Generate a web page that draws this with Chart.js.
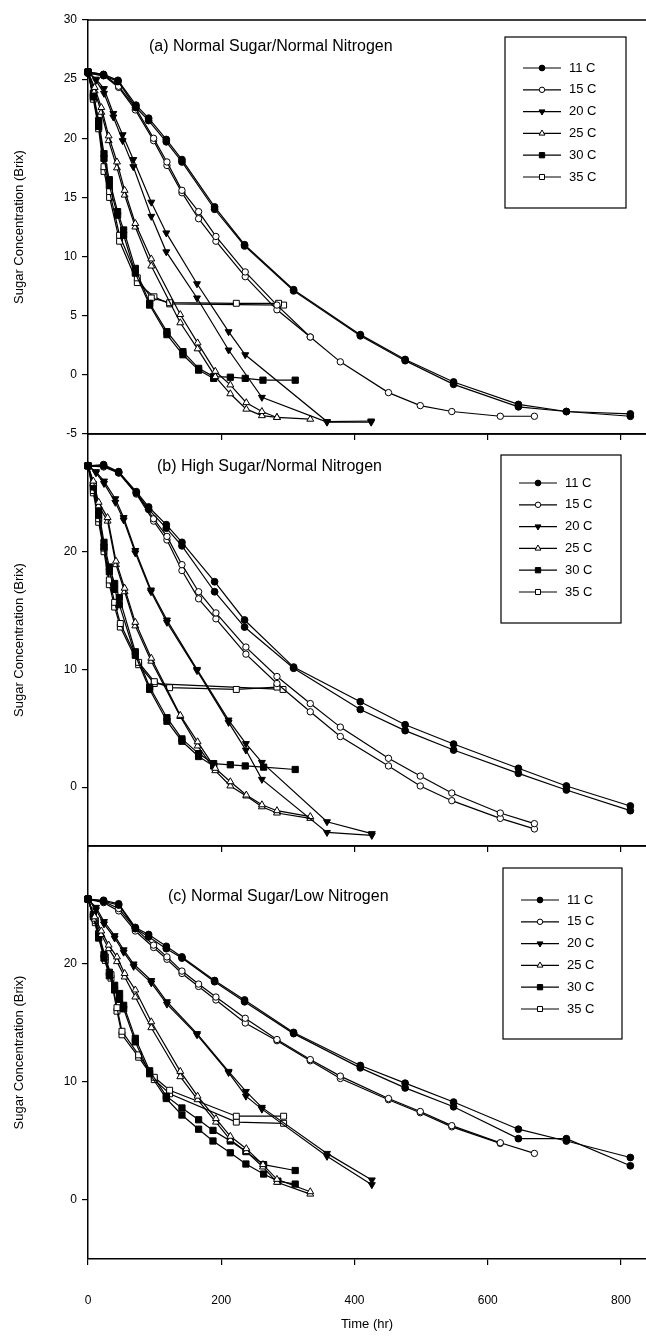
<!DOCTYPE html>
<html>
<head>
<meta charset="utf-8">
<script src="https://cdn.jsdelivr.net/npm/chart.js@4.4.0/dist/chart.umd.min.js"></script>
<style>
body { margin: 0; background: #fff; width: 646px; height: 1338px; position: relative; overflow: hidden; }
canvas { position: absolute; left: 0; }
</style>
</head>
<body>
<canvas id="chartA" width="646" height="460" style="top:0px"></canvas>
<canvas id="chartB" width="646" height="472" style="top:400px"></canvas>
<canvas id="chartC" width="646" height="526" style="top:812px"></canvas>
<script>
// ---------------- Data : [time (hr), sugar (Brix)], two replicates per temperature ----
const temps = [ '11 C', '15 C', '20 C', '25 C', '30 C', '35 C' ] ;
const xTicks = [ 0, 200, 400, 600, 800 ] ;
const yTicksA = [ -5, 0, 5, 10, 15, 20, 25, 30 ] ;
const yTicksBC = [ 0, 10, 20 ] ;

// (a) Normal Sugar / Normal Nitrogen
const a11r1 = [[0,25.6],[23.4,25.4],[45,24.9],[72,22.8],[91,21.7],[117.5,19.9],[141,18.2],[190,14.2],[235,11.0],[308.6,7.2],[408.7,3.4],[476,1.3],[548.7,-0.6],[646,-2.5],[718,-3.1],[814,-3.3]] ;
const a11r2 = [[0,25.5],[23.4,25.3],[45,24.8],[72,22.6],[91,21.5],[117.5,19.7],[141,18.0],[190,14.0],[235,10.9],[308.6,7.1],[408.7,3.3],[476,1.2],[548.7,-0.8],[646,-2.7],[718,-3.1],[814,-3.5]] ;
const a15r1 = [[0,25.6],[23.4,25.4],[46,24.4],[71,22.6],[98.5,20.0],[118.5,18.0],[141,15.6],[166,13.8],[192,11.7],[236,8.7],[283.6,5.9],[333.6,3.2],[378.7,1.1],[451,-1.5],[498.7,-2.6],[546,-3.1],[618.8,-3.5],[670,-3.5]] ;
const a15r2 = [[0,25.5],[23.4,25.3],[46,24.3],[71,22.4],[98.5,19.8],[118.5,17.7],[141,15.4],[166,13.2],[192,11.3],[236,8.3],[283.6,5.5],[333.6,3.2]] ;
const a20r1 = [[0,25.6],[12,25.0],[24,24.2],[38,22.1],[52,20.3],[68,18.2],[95,14.6],[117.5,12.0],[163.6,7.7],[211,3.65],[236,1.7],[358.7,-3.95],[425,-3.9]] ;
const a20r2 = [[0,25.6],[12,24.9],[24,23.8],[38,21.8],[52,19.8],[68,17.6],[95,13.4],[117.5,10.4],[163.6,6.5],[211,2.1],[261,-1.9],[358.7,-4.0],[425,-4.0]] ;
const a25r1 = [[0,25.6],[10,24.3],[20,22.6],[31,20.2],[43.5,18.0],[55,15.6],[71,12.8],[95,9.8],[138.5,5.1],[164.5,2.7],[191,0.3],[213.6,-0.85],[237.6,-2.35],[261,-3.1],[283.6,-3.6],[333.6,-3.75]] ;
const a25r2 = [[0,25.6],[10,24.0],[20,22.2],[31,19.8],[43.5,17.5],[55,15.2],[71,12.5],[95,9.2],[138.5,4.4],[164.5,2.2],[191,-0.15],[213.6,-1.6],[237.6,-2.9],[261,-3.45],[283.6,-3.6]] ;
const a30r1 = [[0,25.6],[8,23.8],[16,21.5],[24,18.7],[32,16.5],[44.4,13.8],[53.5,12.25],[71,9.0],[92.5,6.05],[118.5,3.65],[142.5,1.96],[166,0.55],[188.6,-0.15],[213.6,-0.2],[236,-0.3],[262.6,-0.45],[311,-0.45]] ;
const a30r2 = [[0,25.6],[8,23.5],[16,21.0],[24,18.3],[32,16.0],[44.4,13.5],[53.5,11.8],[71,8.6],[92.5,5.9],[118.5,3.4],[142.5,1.7],[166,0.4],[188.6,-0.3]] ;
const a35r1 = [[0,25.6],[8,23.6],[16,21.3],[24,17.6],[32.4,15.5],[47.4,11.8],[74,8.2],[95,6.5],[122.6,6.1],[222.6,6.05],[286,6.05]] ;
const a35r2 = [[0,25.6],[8,23.3],[16,20.8],[24,17.2],[32.4,15.0],[47.4,11.3],[74,7.8],[99,6.6],[122.6,6.0],[293.6,5.9]] ;

// (b) High Sugar / Normal Nitrogen
const b11r1 = [[0,27.3],[23.4,27.4],[46,26.8],[72.5,25.1],[91,23.8],[117.5,22.3],[141,20.8],[190,17.45],[235,14.2],[308.6,10.2],[408.7,7.26],[476,5.3],[548.7,3.66],[646,1.6],[718,0.1],[814,-1.6]] ;
const b11r2 = [[0,27.3],[23.4,27.3],[46,26.7],[72.5,25.0],[91,23.6],[117.5,22.0],[141,20.5],[190,16.6],[235,13.6],[308.6,10.1],[408.7,6.6],[476,4.8],[548.7,3.15],[646,1.17],[718,-0.24],[814,-2.0]] ;
const b15r1 = [[0,27.3],[23.4,27.3],[46,26.8],[72.5,25.0],[98.5,22.8],[118.5,21.3],[141,18.9],[166,16.6],[192,14.8],[237,11.9],[283.6,9.4],[333.6,7.1],[378.7,5.1],[451,2.45],[498.7,0.94],[546,-0.5],[618.8,-2.2],[670,-3.1]] ;
const b15r2 = [[0,27.3],[23.4,27.2],[46,26.7],[72.5,24.9],[98.5,22.6],[118.5,21.0],[141,18.4],[166,16.0],[192,14.3],[237,11.3],[283.6,8.8],[333.6,6.4],[378.7,4.3],[451,1.8],[498.7,0.1],[546,-1.15],[618.8,-2.65],[670,-3.55]] ;
const b20r1 = [[0,27.3],[12,26.8],[24,26.0],[41,24.5],[53.5,22.9],[71,20.1],[94.5,16.75],[118.5,14.2],[163.6,10.0],[211,5.7],[237,3.7],[261,2.1],[358.7,-2.94],[426,-3.95]] ;
const b20r2 = [[0,27.3],[12,26.7],[24,25.8],[41,24.2],[53.5,22.7],[71,19.9],[94.5,16.6],[118.5,14.0],[163.6,9.9],[211,5.5],[237,3.15],[261,0.66],[358.7,-3.85],[426,-4.1]] ;
const b25r1 = [[0,27.3],[8,26.0],[16,24.2],[29.4,22.9],[42,19.2],[55,16.9],[71,14.0],[95,10.95],[138.5,6.1],[164.5,3.85],[191,1.6],[213.6,0.46],[237.6,-0.67],[261,-1.5],[283.6,-2.0],[333.6,-2.5]] ;
const b25r2 = [[0,27.3],[8,25.8],[16,23.9],[29.4,22.6],[42,18.9],[55,16.6],[71,13.7],[95,10.7],[138.5,6.0],[164.5,3.5],[191,1.4],[213.6,0.1],[237.6,-0.75],[261,-1.67],[283.6,-2.2],[333.6,-2.65]] ;
const b30r1 = [[0,27.3],[8,25.7],[16,23.5],[24,20.8],[32,18.7],[40,17.3],[47,16.1],[71,11.5],[92.5,8.5],[118.5,5.9],[141,4.1],[166,2.85],[188.6,2.0],[213.6,1.9],[236,1.8],[263.6,1.7],[311,1.5]] ;
const b30r2 = [[0,27.3],[8,25.5],[16,23.1],[24,20.4],[32,18.3],[40,16.8],[47,15.5],[71,11.2],[92.5,8.3],[118.5,5.6],[141,3.9],[166,2.6],[188.6,1.8]] ;
const b35r1 = [[0,27.3],[8,25.2],[16,22.8],[24,20.3],[32,17.6],[40,15.7],[48.5,13.9],[76,10.6],[99.5,8.96],[122.5,8.45],[222.6,8.3],[283.6,8.5]] ;
const b35r2 = [[0,27.3],[8,25.0],[16,22.5],[24,20.0],[32,17.2],[40,15.3],[48.5,13.6],[76,10.4],[99.5,8.8],[292.7,8.3]] ;

// (c) Normal Sugar / Low Nitrogen
const c11r1 = [[0,25.5],[23.4,25.4],[46,25.1],[71,23.1],[91,22.5],[117.5,21.5],[141,20.6],[190,18.6],[235,16.95],[308.6,14.2],[408.7,11.4],[476,9.9],[548.7,8.3],[646,6.0],[718,5.0],[814,3.6]] ;
const c11r2 = [[0,25.5],[23.4,25.3],[46,25.0],[71,23.0],[91,22.3],[117.5,21.3],[141,20.5],[190,18.5],[235,16.8],[308.6,14.1],[408.7,11.2],[476,9.5],[548.7,7.9],[646,5.2],[718,5.2],[814,2.9]] ;
const c15r1 = [[0,25.5],[23.4,25.3],[46,24.7],[71,23.0],[98.5,21.6],[118.5,20.6],[141,19.4],[166,18.3],[192,17.2],[236,15.4],[283.6,13.6],[333.6,11.9],[378.7,10.5],[451,8.6],[498.7,7.5],[546,6.3],[618.8,4.85],[670,3.95]] ;
const c15r2 = [[0,25.5],[23.4,25.2],[46,24.5],[71,22.8],[98.5,21.4],[118.5,20.4],[141,19.2],[166,18.1],[192,16.95],[236,15.0],[283.6,13.5],[333.6,11.8],[378.7,10.3],[451,8.5],[498.7,7.4],[546,6.2],[618.8,4.8]] ;
const c20r1 = [[0,25.5],[12,24.8],[24,23.6],[40,22.4],[53.5,21.2],[68.5,20.0],[95,18.6],[118.5,16.8],[163.6,14.1],[211,10.9],[237,9.2],[261,7.85],[358.7,3.95],[426,1.7]] ;
const c20r2 = [[0,25.5],[12,24.6],[24,23.4],[40,22.2],[53.5,21.0],[68.5,19.8],[95,18.4],[118.5,16.6],[163.6,14.0],[211,10.8],[237,8.8],[261,7.7],[358.7,3.7],[426,1.3]] ;
const c25r1 = [[0,25.5],[10,24.0],[20,22.8],[31,21.6],[43.5,20.6],[55,19.2],[71,17.8],[95,15.1],[138.5,10.9],[164.5,8.8],[192,6.9],[213.6,5.4],[237.6,4.35],[262.6,3.0],[283.6,1.75],[333.6,0.7]] ;
const c25r2 = [[0,25.5],[10,23.8],[20,22.5],[31,21.3],[43.5,20.2],[55,18.9],[71,17.2],[95,14.6],[138.5,10.45],[164.5,8.5],[192,6.6],[213.6,5.1],[237.6,4.1],[262.6,2.8],[283.6,1.5],[333.6,0.5]] ;
const c30r1 = [[0,25.5],[8,24.2],[16,22.5],[24,20.8],[32,19.3],[40,18.2],[47.4,17.5],[53.5,16.5],[71,13.7],[92.5,10.95],[117.5,8.8],[141,7.8],[166,6.8],[187.6,5.9],[213.6,5.0],[237,4.1],[263.6,3.0],[311,2.5]] ;
const c30r2 = [[0,25.5],[8,24.0],[16,22.2],[24,20.5],[32,19.0],[40,17.8],[47.4,17.0],[53.5,16.2],[71,13.4],[92.5,10.7],[117.5,8.6],[141,7.2],[166,6.0],[187.6,5.0],[213.6,4.0],[237,3.05],[263.6,2.2],[285,1.6],[311,1.35]] ;
const c35r1 = [[0,25.5],[11,23.7],[16,22.6],[26,20.6],[34.5,19.1],[43.5,16.3],[51,14.3],[76,12.3],[99.5,10.4],[122.5,9.3],[222.6,7.1],[293.6,7.1]] ;
const c35r2 = [[0,25.5],[11,23.5],[16,22.3],[26,20.3],[34.5,18.8],[43.5,16.0],[51,14.0],[76,12.1],[99.5,10.2],[122.5,9.0],[222.6,6.6],[293.6,6.5]] ;

// ---------------- Styles -----------------------------------------------------
const FONT = '"Liberation Sans", Arial, Helvetica, sans-serif' ;

const markers = [
    { style: 'circle',   rot: 0,   fill: true,  radius: 3.4 },
    { style: 'circle',   rot: 0,   fill: false, radius: 3.2 },
    { style: 'triangle', rot: 180, fill: true,  radius: 4.0 },
    { style: 'triangle', rot: 0,   fill: false, radius: 4.0 },
    { style: 'rect',     rot: 0,   fill: true,  radius: 4.4 },
    { style: 'rect',     rot: 0,   fill: false, radius: 4.2 }
] ;

function makeDataset( label, pts, m ) {
    return {
        label            : label,
        data             : pts.map( p => ({ x: p[0], y: p[1] }) ),
        borderColor      : '#000',
        borderWidth      : 1.2,
        backgroundColor  : '#000',
        tension          : 0,
        clip             : false,
        pointStyle       : m.style,
        pointRotation    : m.rot,
        pointRadius      : m.radius,
        pointBackgroundColor : m.fill ? '#000' : '#fff',
        pointBorderColor : '#000',
        pointBorderWidth : 1
    } ;
}

function buildDatasets( series ) {
    const out = [] ;
    series.forEach( ( pair, i ) => {
        out.push( makeDataset( temps[i], pair[0], markers[i] ) ) ;
        out.push( makeDataset( temps[i] + ' (rep 2)', pair[1], markers[i] ) ) ;
    } ) ;
    return out ;
}

// ---------------- Plugins ----------------------------------------------------
const frameTop = {
    id: 'frameTop',
    afterDraw( chart ) {
        const a = chart.chartArea, ctx = chart.ctx ;
        ctx.save() ;
        ctx.strokeStyle = '#000' ;
        ctx.lineWidth = 1.5 ;
        ctx.beginPath() ;
        ctx.moveTo( a.left, a.top ) ;
        ctx.lineTo( a.right, a.top ) ;
        ctx.stroke() ;
        ctx.restore() ;
    }
} ;

const panelText = {
    id: 'panelText',
    afterDraw( chart, args, opts ) {
        const ctx = chart.ctx ;
        ctx.save() ;
        ctx.fillStyle = '#000' ;
        ctx.font = '16px ' + FONT ;
        ctx.textBaseline = 'middle' ;
        ctx.fillText( opts.text, opts.x, opts.y - opts.offset ) ;
        ctx.restore() ;
    }
} ;

const boxLegend = {
    id: 'boxLegend',
    afterDraw( chart, args, opts ) {
        const ctx = chart.ctx ;
        const off = opts.offset ;
        ctx.save() ;
        ctx.strokeStyle = '#000' ;
        ctx.lineWidth = 1.2 ;
        ctx.strokeRect( opts.box[0], opts.box[1] - off, opts.box[2], opts.box[3] ) ;
        ctx.font = '13px ' + FONT ;
        ctx.textBaseline = 'middle' ;
        temps.forEach( ( t, i ) => {
            const y = opts.rowTop - off + i * opts.rowGap ;
            ctx.strokeStyle = '#000' ;
            ctx.lineWidth = 1.2 ;
            ctx.beginPath() ;
            ctx.moveTo( opts.lineX[0], y ) ;
            ctx.lineTo( opts.lineX[1], y ) ;
            ctx.stroke() ;
            const m = markers[i] ;
            ctx.fillStyle = m.fill ? '#000' : '#fff' ;
            ctx.lineWidth = 1 ;
            Chart.helpers.drawPoint( ctx, {
                pointStyle: m.style, rotation: m.rot, radius: m.radius * 0.85, borderWidth: 1
            }, ( opts.lineX[0] + opts.lineX[1] ) / 2, y ) ;
            ctx.fillStyle = '#000' ;
            ctx.fillText( t, opts.textX, y ) ;
        } ) ;
        ctx.restore() ;
    }
} ;

// ---------------- Chart factory ----------------------------------------------
function makeChart( canvasId, cfg ) {

    const yTicks = cfg.yTicks ;
    return new Chart( document.getElementById( canvasId ), {
        type: 'line',
        data: { datasets: buildDatasets( cfg.series ) },
        plugins: [ frameTop, panelText, boxLegend ],
        options: {
            responsive: false,
            animation: false,
            layout: { autoPadding: false, padding: { top: cfg.padTop, left: 0, right: 0, bottom: 0 } },
            plugins: {
                legend: { display: false },
                tooltip: { enabled: false },
                panelText: { text: cfg.title, x: cfg.titleX, y: cfg.titleY, offset: cfg.offset },
                boxLegend: {
                    offset: cfg.offset, box: cfg.legendBox, rowTop: cfg.legendRowTop,
                    rowGap: 21.8, lineX: [ cfg.legendBox[0] + 18, cfg.legendBox[0] + 56 ],
                    textX: cfg.legendBox[0] + 64
                }
            },
            scales: {
                x: {
                    type: 'linear',
                    min: 0,
                    max: 837.5,
                    afterBuildTicks: s => { s.ticks = xTicks.map( v => ({ value: v }) ) ; },
                    afterFit: s => { s.height = cfg.xHeight ; s.paddingLeft = 0 ; s.paddingRight = 0 ; },
                    border: { display: true, color: '#000', width: 1.5 },
                    grid: { drawOnChartArea: false, drawTicks: true, tickLength: 6, color: '#000', lineWidth: 1.2 },
                    ticks: { display: cfg.showX, color: '#000', padding: 28, font: { size: 12, family: FONT } },
                    title: { display: cfg.showX, text: 'Time (hr)', color: '#000', font: { size: 13, family: FONT }, padding: { top: 4, bottom: 6 } }
                },
                y: {
                    type: 'linear',
                    min: -5,
                    max: 30,
                    afterBuildTicks: s => { s.ticks = yTicks.map( v => ({ value: v }) ) ; },
                    afterFit: s => { s.width = 88 ; s.paddingTop = 0 ; s.paddingBottom = 0 ; },
                    border: { display: true, color: '#000', width: 1.5 },
                    grid: { drawOnChartArea: false, drawTicks: true, tickLength: 6, color: '#000', lineWidth: 1.2 },
                    ticks: { color: '#000', padding: 5, font: { size: 12, family: FONT } },
                    title: { display: true, text: 'Sugar Concentration (Brix)', color: '#000', font: { size: 13, family: FONT }, padding: { top: 12, bottom: 0 } }
                }
            }
        }
    } ) ;
}

makeChart( 'chartA', {
    series: [ [a11r1, a11r2], [a15r1, a15r2], [a20r1, a20r2], [a25r1, a25r2], [a30r1, a30r2], [a35r1, a35r2] ],
    yTicks: yTicksA, padTop: 20, xHeight: 26, showX: false, offset: 0,
    title: '(a) Normal Sugar/Normal Nitrogen', titleX: 149, titleY: 47,
    legendBox: [ 505, 37, 121, 171 ], legendRowTop: 68
} ) ;

makeChart( 'chartB', {
    series: [ [b11r1, b11r2], [b15r1, b15r2], [b20r1, b20r2], [b25r1, b25r2], [b30r1, b30r2], [b35r1, b35r2] ],
    yTicks: yTicksBC, padTop: 34, xHeight: 26, showX: false, offset: 400,
    title: '(b) High Sugar/Normal Nitrogen', titleX: 157, titleY: 467,
    legendBox: [ 501, 455, 120, 168 ], legendRowTop: 483
} ) ;

makeChart( 'chartC', {
    series: [ [c11r1, c11r2], [c15r1, c15r2], [c20r1, c20r2], [c25r1, c25r2], [c30r1, c30r2], [c35r1, c35r2] ],
    yTicks: yTicksBC, padTop: 34, xHeight: 79, showX: true, offset: 812,
    title: '(c) Normal Sugar/Low Nitrogen', titleX: 168, titleY: 897,
    legendBox: [ 503, 868, 119, 171 ], legendRowTop: 900
} ) ;
</script>
</body>
</html>
